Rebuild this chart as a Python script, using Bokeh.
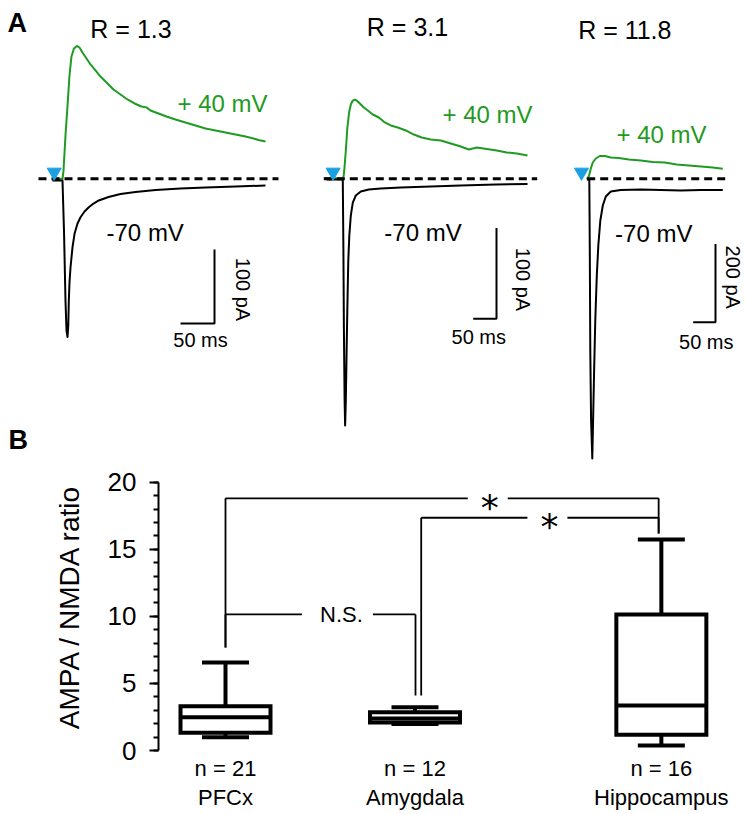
import math
from bokeh.plotting import figure
from bokeh.models import (Range1d, Label, LinearAxis, FixedTicker,
                          SingleIntervalTicker, ColumnDataSource)
from bokeh.layouts import row, column
from bokeh.embed import file_html
from bokeh.resources import INLINE
from bokeh.core.properties import value

FONT = "Liberation Sans"
GREEN = "#1f9a22"
BLUE = "#1aa0e2"

# ---------------- Panel A : example traces (ms after stimulus, pA) ----------------
panel_titles = ["R = 1.3", "R = 3.1", "R = 11.8"]
label_pos40 = "+ 40 mV"
label_neg70 = "-70 mV"
scale_ms = [50, 50, 50]
scale_pA = [100, 100, 200]

t_p40_1 = [-2.5, 12.2, 13.7, 16.6, 19.6, 22.5, 25.4, 29.1, 33.5, 37.2, 41.6, 47.5, 53.4, 60.7,
           68.1, 76.9, 87.2, 97.5, 107.8, 118.1, 128.4, 135.7, 141.6, 153.4, 165.1, 178.4,
           193.1, 207.8, 222.5, 237.2, 251.9, 266.6, 281.3, 293.1, 300.4, 310.7]
i_p40_1 = [0, 0, 11.2, 58.5, 99.1, 139.6, 165.3, 176.1, 179.5, 177.4, 170.7, 162.6, 154.5, 146.4,
           138.2, 130.1, 120.7, 113.9, 107.2, 101.8, 97.7, 96.5, 92.3, 88.2, 84.2, 80.1,
           76.1, 72.0, 67.9, 65.3, 62.6, 59.9, 57.2, 54.5, 52.4, 50.4]
t_m70_1 = [-2.5, 12.2, 14.4, 16.6, 18.1, 19.6, 20.7, 21.5, 22.5, 24.0, 26.9, 29.9, 34.3, 38.7,
           44.6, 50.9, 57.8, 65.6, 79.9, 97.5, 119.6, 149.0, 185.7, 222.5, 266.6, 310.7]
i_m70_1 = [-2.3, -2.3, -69.9, -164.5, -205.0, -213.8, -198.2, -164.5, -140.1, -119.5, -92.8,
           -74.3, -60.4, -51.9, -44.2, -38.4, -33.4, -29.3, -24.6, -20.5, -17.8, -15.1, -13.1,
           -11.8, -10.4, -9.1]

t_p40_2 = [-19.3, 21.9, 24.0, 27.3, 30.5, 34.3, 38.0, 42.3, 46.6, 50.9, 57.3, 65.9, 74.5, 85.2,
           98.1, 111.0, 123.8, 138.8, 156.0, 173.2, 190.3, 209.7, 231.1, 252.6, 274.0, 291.2,
           308.4, 329.8, 351.3, 372.7, 394.2, 417.2]
i_p40_2 = [0.9, 0.3, 9.2, 31.2, 55.5, 73.1, 81.9, 86.3, 87.4, 86.3, 83.0, 78.6, 75.3, 70.9,
           67.6, 62.1, 58.8, 56.6, 53.3, 48.8, 45.5, 43.3, 42.2, 38.9, 35.6, 32.3,
           34.5, 32.9, 31.2, 29.0, 27.9, 25.7]
t_m70_2 = [-13.5, 20.8, 22.1, 23.2, 24.7, 25.8, 27.3, 29.0, 30.9, 32.6, 34.8, 38.0, 42.3, 48.7,
           59.4, 76.6, 102.4, 145.3, 209.7, 274.0, 349.1, 417.2]
i_m70_2 = [-0.8, -0.8, -79.1, -167.3, -244.5, -272.0, -244.5, -189.4, -134.2, -90.1, -62.5,
           -40.5, -26.2, -18.4, -14.0, -11.8, -10.7, -9.6, -8.5, -7.4, -6.3, -5.7]

t_p40_3 = [11.9, 16.4, 20.9, 25.3, 32.1, 41.0, 52.2, 65.7, 83.6, 106.1, 133.0, 159.9, 186.8,
           213.7, 240.6, 267.5, 294.4, 316.8]
i_p40_3 = [0, 5.9, 26.3, 41.6, 51.9, 58.2, 58.2, 54.4, 53.1, 49.3, 46.7, 42.9, 41.6,
           36.5, 34.0, 31.4, 28.9, 25.5]
t_m70_3 = [11.9, 17.5, 18.6, 19.7, 21.5, 24.2, 26.0, 28.3, 30.9, 34.3, 37.7, 42.2, 47.8, 54.5,
           65.7, 88.1, 133.0, 177.8, 222.6, 267.5, 316.8]
i_m70_3 = [-1.8, -1.8, -183.1, -438.6, -617.4, -714.4, -617.4, -489.7, -361.9, -247.0, -170.4,
           -106.5, -68.2, -45.2, -32.4, -28.6, -27.3, -28.6, -29.9, -28.6, -28.6]

traces_p40 = [(t_p40_1, i_p40_1), (t_p40_2, i_p40_2), (t_p40_3, i_p40_3)]
traces_m70 = [(t_m70_1, i_m70_1), (t_m70_2, i_m70_2), (t_m70_3, i_m70_3)]

# ---------------- Panel B : AMPA / NMDA ratio box plots ----------------
regions = ["PFCx", "Amygdala", "Hippocampus"]
n_cells = [21, 12, 16]
whisk_lo = [0.99, 1.98, 0.37]
q1 = [1.32, 2.09, 1.17]
median = [2.48, 2.39, 3.35]
q3 = [3.30, 2.86, 10.14]
whisk_hi = [6.56, 3.23, 15.73]
comparisons = [(0, 2), (1, 2), (0, 1)]
comp_labels = ["*", "*", "N.S."]
comp_heights = [18.8, 17.35, 10.14]

# ---------------- layout (page pixel anchors = visual centres of texts) ----------------
TOP_H = 462
BOT_H = 350
BOT_BORDER = 62
PAGE_W = 745

panel_cfg = [
    dict(left=0, right=288, stim=53.7, base=178.3, bar=(214, 323), bar_w=34.0, bar_h=74.0,
         dash=(38, 278), tri=171.7, r=(130.5, 29.8), p40=(222, 104.2), m70=(144.7, 232.5),
         ms=(200, 340.8), pa=(241, 289)),
    dict(left=288, right=548, stim=332.6, base=178.3, bar=(496, 318.3), bar_w=23.3, bar_h=90.7,
         dash=(323.3, 536.7), tri=171.7, r=(407, 27.5), p40=(487, 115.0), m70=(422.5, 233.3),
         ms=(478.3, 337.5), pa=(521, 279)),
    dict(left=548, right=PAGE_W, stim=581.0, base=178.3, bar=(715, 321.7), bar_w=22.3, bar_h=78.3,
         dash=(586.7, 725), tri=171.7, r=(624.3, 30.0), p40=(661, 135.0), m70=(653.3, 233.7),
         ms=(705.8, 342.5), pa=(731.5, 276.7)),
]
DY = 1.0    # rendered text centre sits ~1px below its anchor


def make_panel(i):
    c = panel_cfg[i]
    kx = c["bar_w"] / scale_ms[i]
    ky = c["bar_h"] / scale_pA[i]

    def tx(X):
        return (X - c["stim"]) / kx

    def iy(Y):
        return (c["base"] - Y) / ky

    p = figure(width=c["right"] - c["left"], height=TOP_H,
               x_range=Range1d(tx(c["left"]), tx(c["right"])),
               y_range=Range1d(iy(TOP_H), iy(0)),
               output_backend="svg", toolbar_location=None,
               x_axis_location=None, y_axis_location=None, min_border=0,
               outline_line_color=None)
    p.grid.visible = False

    tg, ig = traces_p40[i]
    tb, ib = traces_m70[i]
    p.line(tg, ig, line_color=GREEN, line_width=2, line_join="round")
    p.line(tb, ib, line_color="black", line_width=2, line_join="round")
    p.line([tx(c["dash"][0]), tx(c["dash"][1])], [0, 0], line_color="black",
           line_width=3, line_dash="8 5")
    p.scatter([0], [iy(c["tri"])], marker="inverted_triangle", size=14,
              fill_color=BLUE, line_color=BLUE)

    # scale bar
    tc, ic = tx(c["bar"][0]), iy(c["bar"][1])
    p.line([tc - scale_ms[i], tc, tc], [ic, ic, ic + scale_pA[i]],
           line_color="black", line_width=2)

    def lab(pos, text, size, color="black", rotated=False, align="center", bold=False):
        if rotated:
            X, Y, ang = pos[0] + DY, pos[1], -math.pi / 2
        else:
            X, Y, ang = pos[0], pos[1] - DY, 0.0
        p.add_layout(Label(x=tx(X), y=iy(Y), text=text, text_font=FONT,
                           text_font_size=size, text_color=color, angle=ang,
                           text_align=align, text_baseline="alphabetic",
                           text_font_style="bold" if bold else "normal"))

    lab(c["r"], panel_titles[i], "25px")
    lab(c["p40"], label_pos40, "24px", color=GREEN)
    lab(c["m70"], label_neg70, "24px")
    lab(c["ms"], f"{scale_ms[i]} ms", "20px")
    lab(c["pa"], f"{scale_pA[i]} pA", "20px", rotated=True)
    if i == 0:
        lab((7, 23.4), "A", "27px", align="left", bold=True)
        lab((8, 440.8), "B", "27px", align="left", bold=True)
    return p


tops = [make_panel(i) for i in range(3)]

# ---------------- bottom panel ----------------
S = 18.95      # px per x-unit
X0 = 35.5      # page px of x = 0
PXU = 13.415   # px per ratio unit
ZERO_PX = 750  # page px of ratio 0
AX_PX = 158    # page px of y axis line
group_x = [10, 20, 33]
BOX_W = 90 / S
CAP_W = 47 / S

pB = figure(width=PAGE_W, height=BOT_H,
            x_range=Range1d((AX_PX - X0) / S, (PAGE_W - X0) / S),
            y_range=Range1d(0, (ZERO_PX - TOP_H) / PXU),
            output_backend="svg", toolbar_location=None,
            x_axis_location=None, y_axis_location=None,
            min_border_left=AX_PX, min_border_right=0, min_border_top=0,
            min_border_bottom=BOT_BORDER, outline_line_color=None)
pB.grid.visible = False

yax = LinearAxis(bounds=(0, 20), ticker=SingleIntervalTicker(interval=5, num_minor_ticks=5),
                 major_tick_in=0, major_tick_out=9, minor_tick_in=0, minor_tick_out=5,
                 axis_line_width=2, major_tick_line_width=2, minor_tick_line_width=2,
                 axis_line_color="black", major_tick_line_color="black",
                 minor_tick_line_color="black",
                 major_label_text_font=FONT, major_label_text_font_size="26px",
                 major_label_text_color="black",
                 major_label_standoff=13, axis_label="AMPA / NMDA ratio",
                 axis_label_text_font=FONT, axis_label_text_font_size="28px",
                 axis_label_text_color="black",
                 axis_label_text_font_style="normal", axis_label_standoff=20)
pB.add_layout(yax, "left")


def cat_axis(labels, standoff):
    ov = {}
    for gx, t in zip(group_x, labels):
        ov[gx] = t
        ov[str(gx)] = t
    return LinearAxis(ticker=FixedTicker(ticks=group_x), major_label_overrides=ov,
                      axis_line_color=None, major_tick_line_color=None,
                      minor_tick_line_color=None, major_tick_in=0, major_tick_out=0,
                      minor_tick_in=0, minor_tick_out=0,
                      major_label_text_font=FONT, major_label_text_font_size="22px",
                      major_label_text_color="black",
                      major_label_standoff=standoff)


pB.add_layout(cat_axis([f"n = {n}" for n in n_cells], 5), "below")
pB.add_layout(cat_axis(regions, 1), "below")

src = ColumnDataSource(dict(
    x=group_x, lo=whisk_lo, q1=q1, med=median, q3=q3, hi=whisk_hi,
    cl=[g - CAP_W / 2 for g in group_x], cr=[g + CAP_W / 2 for g in group_x],
    bl=[g - BOX_W / 2 for g in group_x], br=[g + BOX_W / 2 for g in group_x]))
LW = 4
pB.segment(x0="x", y0="q3", x1="x", y1="hi", source=src, line_color="black", line_width=LW)
pB.segment(x0="x", y0="lo", x1="x", y1="q1", source=src, line_color="black", line_width=LW)
pB.segment(x0="cl", y0="hi", x1="cr", y1="hi", source=src, line_color="black", line_width=LW)
pB.segment(x0="cl", y0="lo", x1="cr", y1="lo", source=src, line_color="black", line_width=LW)
pB.vbar(x="x", width=BOX_W, bottom="q1", top="q3", source=src, fill_color="white",
        line_color="black", line_width=LW, line_join="miter")
pB.segment(x0="bl", y0="med", x1="br", y1="med", source=src, line_color="black", line_width=LW)

# significance brackets (layout: leg offsets in px, leg bottoms, label fraction, gap)
leg_dx = [(0, -2.7), (6.2, -2.7), (0, 0.5)]
leg_bot = [(7.68, 16.18), (4.1, 16.18), (7.68, 4.1)]
lab_frac = [0.61, 0.54, 0.61]
gap_half = {"*": 20, "N.S.": 35.5}
gap_shift = {"*": -2, "N.S.": -4}

sx0, sy0, sx1, sy1 = [], [], [], []
star_x, star_y, ns_x, ns_y = [], [], [], []
for k, (a, b) in enumerate(comparisons):
    h = comp_heights[k]
    xl = group_x[a] + leg_dx[k][0] / S
    xr = group_x[b] + leg_dx[k][1] / S
    xlab = xl + lab_frac[k] * (xr - xl)
    lbl = comp_labels[k]
    gc = xlab + gap_shift[lbl] / S
    gl, gr = gc - gap_half[lbl] / S, gc + gap_half[lbl] / S
    for (x0_, y0_, x1_, y1_) in [(xl, h, gl, h), (gr, h, xr, h),
                                 (xl, h, xl, leg_bot[k][0]), (xr, h, xr, leg_bot[k][1])]:
        sx0.append(x0_); sy0.append(y0_); sx1.append(x1_); sy1.append(y1_)
    if lbl == "*":
        star_x.append(xlab); star_y.append(h)
    else:
        ns_x.append(xlab); ns_y.append(h)

pB.segment(x0=sx0, y0=sy0, x1=sx1, y1=sy1, line_color="black", line_width=1.8)
pB.text(x=star_x, y=star_y, text=["*"] * len(star_x), text_font=value("DejaVu Sans"),
        text_font_size="36px", text_align="center", text_baseline="alphabetic",
        y_offset=9)
pB.text(x=ns_x, y=ns_y, text=["N.S."] * len(ns_x), text_font=value(FONT),
        text_font_size="22px", text_align="center", text_baseline="alphabetic",
        y_offset=0)

layout = column(row(*tops), pB)
open("out.html", "w").write(file_html(layout, INLINE))
